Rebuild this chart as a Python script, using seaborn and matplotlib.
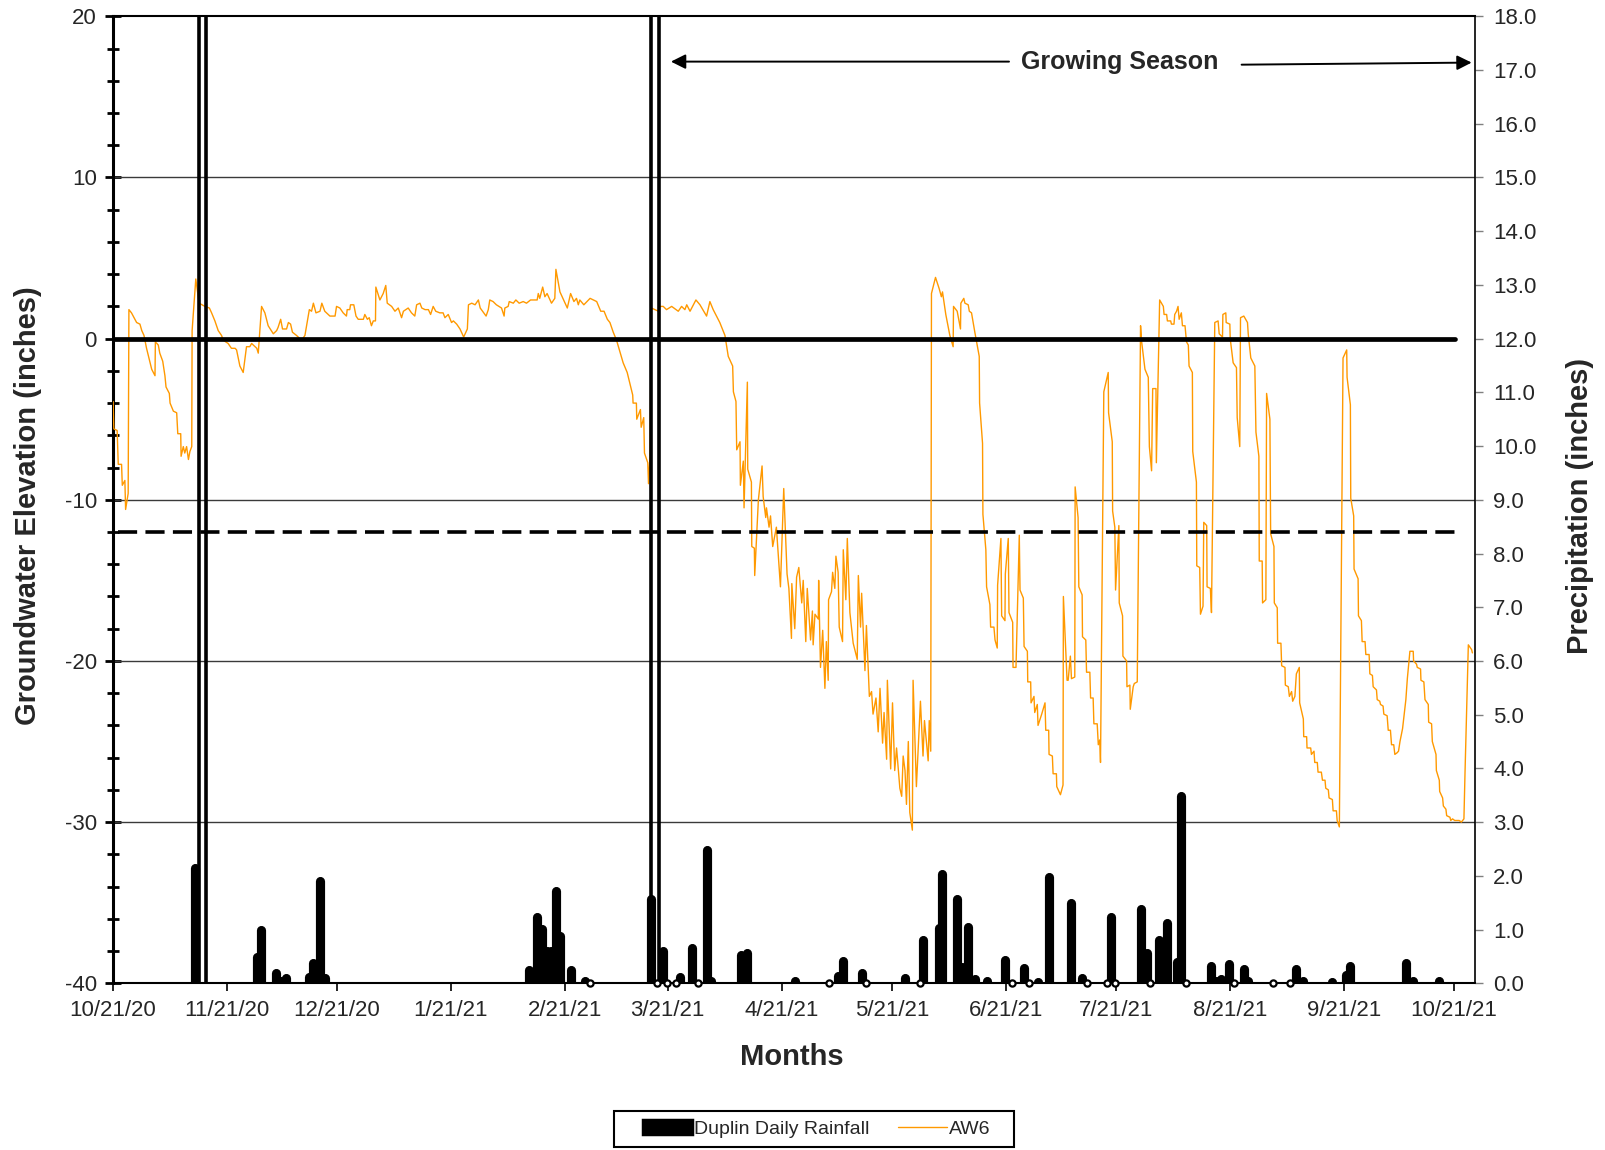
import numpy as np
import pandas as pd
import matplotlib
matplotlib.use("Agg")
import matplotlib.pyplot as plt
import matplotlib.dates as mdates
import seaborn as sns
from matplotlib.lines import Line2D
from matplotlib.patches import Patch, Rectangle
from matplotlib.ticker import MultipleLocator, FormatStrFormatter

# ---------------- data ----------------
start_date = "2020-10-21"

# AW6 groundwater elevation (inches): (days after 10/21/20, value)
aw6_oct_mar = [
    (0.1, -3.9), (0.3, -5.6), (1.2, -5.7), (1.5, -7.8), (2.4, -7.8), (2.6, -9.1), (3.3, -8.8), (3.5, -10.6),
    (4.2, -9.6), (4.4, 1.8), (5.1, 1.6), (6.5, 1.0), (7.4, 0.9), (7.9, 0.5), (8.5, 0.2), (9.2, -0.6),
    (10.6, -1.9), (11.5, -2.3), (11.6, -0.2), (12.4, -0.4), (12.8, -0.9), (13.6, -1.4), (14.2, -2.3),
    (14.5, -3.0), (15.4, -3.4), (15.6, -4.0), (16.5, -4.5), (17.4, -4.6), (17.7, -5.9), (18.5, -5.9),
    (18.6, -7.3), (19.2, -6.7), (19.6, -7.1), (20.1, -6.7), (20.6, -7.5), (21.0, -7.0), (21.5, -6.7),
    (21.6, 0.5), (22.6, 3.7), (23.5, 2.2), (25.1, 2.0), (26.3, 1.9), (26.9, 1.6), (27.8, 1.1), (28.7, 0.5),
    (29.6, 0.2), (30.1, -0.1), (31.4, -0.3), (32.3, -0.6), (33.3, -0.6), (33.7, -0.7), (34.6, -1.7),
    (35.5, -2.1), (36.4, -0.5), (37.3, -0.5), (37.8, -0.3), (39.2, -0.6), (39.6, -0.9), (40.5, 2.0),
    (41.4, 1.6), (42.3, 0.8), (43.7, 0.3), (44.6, 0.5), (45.0, 0.7), (45.7, 1.2), (46.2, 0.6), (47.3, 0.6),
    (47.8, 1.0), (48.4, 0.9), (48.9, 0.4), (50.0, 0.2), (51.4, -0.1), (52.3, 0.2), (53.5, 1.8), (54.1, 1.7),
    (54.6, 2.2), (55.3, 1.6), (56.4, 1.7), (56.9, 2.2), (57.7, 1.7), (59.1, 1.4), (60.5, 1.4), (60.9, 2.0),
    (61.8, 1.9), (62.7, 1.6), (63.6, 1.4), (63.8, 1.8), (64.5, 1.8), (64.7, 2.1), (65.6, 2.1), (66.2, 1.4),
    (66.8, 1.2), (68.2, 1.2), (68.6, 1.5), (69.3, 1.2), (69.8, 1.3), (70.4, 0.8), (70.9, 1.1), (71.5, 1.1),
    (71.6, 3.2), (72.7, 2.4), (73.6, 2.8), (74.3, 3.3), (74.7, 2.2), (75.9, 2.0), (76.8, 1.7), (77.7, 1.9),
    (78.6, 1.3), (79.1, 1.7), (80.4, 1.9), (81.3, 1.6), (82.2, 1.4), (82.7, 2.1), (83.6, 2.2), (84.1, 1.9),
    (85.0, 1.8), (85.9, 1.8), (86.5, 1.5), (87.2, 2.0), (87.9, 1.7), (89.0, 1.6), (89.9, 1.6), (90.4, 1.3),
    (91.3, 1.5), (92.2, 1.0), (92.7, 1.1), (93.6, 0.9), (94.5, 0.6), (95.5, 0.1), (96.5, 0.6), (96.8, 2.1),
    (97.7, 2.2), (98.6, 2.1), (99.5, 2.4), (100.0, 1.9), (101.6, 1.4), (102.2, 1.8), (102.6, 2.4),
    (103.5, 2.3), (104.4, 2.1), (105.8, 1.9), (106.5, 1.4), (106.7, 1.9), (107.6, 2.0), (107.9, 2.3),
    (109.0, 2.2), (109.7, 2.4), (110.6, 2.2), (111.7, 2.3), (112.6, 2.2), (113.7, 2.4), (115.5, 2.4),
    (115.8, 2.8), (116.2, 2.5), (117.0, 3.2), (117.6, 2.6), (118.2, 2.8), (119.4, 2.2), (120.3, 2.5),
    (120.6, 4.3), (121.7, 2.9), (123.1, 2.2), (123.7, 1.9), (124.6, 2.8), (125.5, 2.3), (126.2, 2.5),
    (126.7, 2.1), (127.1, 2.4), (128.2, 2.1), (129.9, 2.5), (131.7, 2.3), (132.8, 1.7), (133.7, 1.7),
    (134.6, 1.2), (135.3, 1.0), (136.2, 0.4), (137.1, -0.1), (138.0, -0.8), (138.9, -1.5), (140.0, -2.1),
]
aw6_mar_may = [
    (141.5, -3.5), (141.6, -4.0), (142.5, -4.0), (142.6, -5.0), (143.6, -4.4), (143.8, -5.5), (144.5, -4.9),
    (144.7, -7.1), (145.6, -7.7), (145.8, -9.0), (146.2, -7.3), (146.6, 1.9), (148.5, 1.7), (148.9, 2.0),
    (149.8, 2.0), (150.7, 1.8), (152.1, 2.0), (153.9, 1.7), (154.8, 2.0), (155.7, 1.8), (156.2, 2.1),
    (157.1, 1.7), (158.7, 2.4), (159.8, 2.1), (161.6, 1.4), (162.5, 2.3), (163.4, 1.8), (165.2, 1.0),
    (166.6, 0.2), (167.5, -1.1), (168.7, -1.7), (168.9, -3.3), (169.6, -3.9), (169.8, -6.9), (170.7, -6.4),
    (170.8, -9.1), (171.6, -7.6), (171.8, -10.5), (172.7, -2.7), (172.8, -8.1), (173.8, -8.9), (173.9, -12.9),
    (174.6, -13.0), (174.7, -14.7), (175.7, -10.0), (176.7, -7.9), (177.0, -9.8), (177.7, -11.1),
    (177.9, -10.5), (178.6, -11.7), (179.0, -11.0), (179.6, -12.9), (180.6, -11.7), (181.7, -15.4),
    (182.0, -13.3), (182.6, -9.3), (183.5, -14.6), (184.0, -15.5), (184.7, -18.6), (184.8, -15.2),
    (185.6, -18.0), (186.1, -14.8), (186.7, -14.2), (187.5, -16.4), (187.9, -15.0), (188.6, -18.8),
    (189.0, -15.5), (189.9, -18.7), (190.4, -16.9), (190.6, -19.0), (191.1, -17.1), (192.0, -17.4),
    (192.1, -15.0), (192.6, -20.4), (193.2, -18.1), (193.8, -21.7), (194.2, -18.8), (194.7, -21.2),
    (194.8, -16.2), (195.6, -15.7), (195.9, -14.5), (196.5, -15.5), (196.8, -13.5), (197.4, -14.5),
    (197.7, -17.9), (198.6, -18.8), (198.8, -13.1), (199.5, -16.2), (199.9, -12.4), (200.6, -17.0),
    (201.5, -18.9), (202.6, -19.9), (202.9, -14.7), (203.5, -17.9), (203.8, -15.8), (204.7, -20.6),
    (205.1, -17.8), (205.9, -22.2), (206.5, -21.9), (206.9, -23.3), (207.7, -22.3), (208.3, -24.4),
    (208.8, -21.7), (209.5, -25.1), (209.9, -23.2), (210.6, -26.1), (210.8, -21.2), (211.7, -26.7),
    (212.2, -22.6), (212.8, -26.8), (213.3, -25.4), (214.2, -27.9), (214.7, -28.4), (215.1, -25.9),
    (215.6, -26.8), (216.0, -28.9), (216.5, -25.0), (216.9, -29.4), (217.6, -30.5), (217.8, -21.2),
    (218.7, -27.8), (219.8, -22.5), (220.5, -25.9), (220.9, -23.7), (221.9, -26.2), (222.2, -23.7),
    (222.6, -25.6),
]
aw6_may_aug = [
    (222.8, 2.8), (223.9, 3.8), (224.9, 3.1), (225.5, 2.6), (225.8, 2.9), (226.7, 1.5), (227.8, 0.2),
    (228.7, -0.5), (228.8, 2.0), (229.8, 1.7), (230.7, 0.6), (230.8, 2.2), (231.6, 2.5), (231.9, 2.2),
    (232.8, 2.1), (233.1, 1.7), (233.7, 1.6), (234.6, 0.4), (235.8, -1.1), (235.9, -4.0), (236.7, -6.5),
    (236.8, -10.9), (237.6, -13.1), (237.8, -15.4), (238.7, -16.5), (238.9, -17.9), (239.8, -17.9),
    (240.1, -18.7), (240.7, -19.2), (240.8, -15.3), (241.7, -12.4), (241.9, -17.2), (242.8, -17.5),
    (242.9, -14.6), (243.7, -12.4), (243.9, -17.0), (244.9, -17.6), (245.0, -20.4), (245.8, -20.4),
    (246.7, -12.2), (246.9, -15.6), (247.8, -16.1), (248.0, -19.1), (248.9, -19.4), (249.0, -21.3),
    (249.8, -21.3), (249.9, -22.6), (250.7, -22.2), (250.9, -23.2), (251.6, -22.7), (251.8, -24.0),
    (252.8, -23.3), (253.7, -22.6), (253.9, -24.3), (254.7, -24.3), (254.8, -25.8), (255.7, -25.9),
    (255.9, -27.0), (256.8, -27.0), (256.9, -27.8), (257.9, -28.3), (258.6, -27.7), (258.7, -16.0),
    (259.7, -21.2), (260.0, -21.2), (260.6, -19.7), (260.9, -21.1), (261.8, -21.0), (261.9, -9.2),
    (262.7, -11.1), (262.9, -15.4), (263.8, -15.9), (263.9, -18.5), (264.8, -18.7), (265.0, -20.7),
    (265.9, -20.7), (266.1, -22.3), (266.8, -22.3), (267.0, -23.9), (267.9, -23.9), (268.2, -25.2),
    (268.6, -24.9), (268.8, -26.3), (269.7, -3.3), (270.9, -2.1), (271.0, -4.6), (272.0, -6.4),
    (272.1, -10.7), (272.7, -11.7), (272.9, -15.6), (273.8, -11.6), (273.9, -16.4), (274.8, -17.2),
    (274.9, -19.7), (275.9, -20.0), (276.0, -21.6), (276.8, -21.5), (276.9, -23.0), (277.7, -21.6),
    (278.0, -21.4), (278.8, -21.3), (279.7, 0.8), (280.0, -0.2), (280.9, -1.9), (281.8, -2.4),
    (282.1, -6.7), (282.7, -8.2), (283.0, -3.1), (283.9, -3.1), (284.0, -7.7), (284.9, 2.4), (285.9, 2.0),
    (286.1, 1.5), (286.8, 1.5), (287.0, 1.1), (287.9, 1.1), (288.1, 0.9), (288.8, 0.9), (289.0, 1.5),
    (289.5, 1.7), (289.9, 2.0), (290.2, 1.2), (290.8, 1.6), (291.1, 0.8), (291.8, 0.8), (292.2, -0.2),
    (292.7, -0.4), (292.9, -1.7), (293.8, -2.1), (293.9, -7.0), (294.9, -8.9), (295.0, -14.1),
    (295.8, -14.2), (296.0, -17.1), (296.7, -16.6), (296.9, -11.4), (297.7, -11.6), (297.8, -15.4),
    (298.7, -15.5), (299.0, -17.0), (299.9, 1.0), (300.8, 1.1), (301.1, 0.3), (302.0, 0.1), (302.1, 1.5),
    (302.9, 1.6), (303.0, 1.0), (304.0, 0.9), (304.1, 0.0),
]
aw6_aug_oct = [
    (304.9, -1.5), (305.8, -1.8), (306.0, -4.9), (306.7, -6.7), (306.9, 1.3), (307.8, 1.4), (308.8, 1.0),
    (309.0, 0.3), (309.7, -1.2), (310.8, -1.7), (311.1, -5.8), (311.9, -7.3), (312.0, -13.8), (312.8, -13.8),
    (312.9, -16.4), (313.8, -16.2), (314.0, -3.4), (314.9, -5.0), (315.1, -12.1), (316.0, -12.9),
    (316.1, -16.4), (316.9, -16.7), (317.0, -18.9), (317.9, -18.9), (318.1, -20.3), (319.0, -20.4),
    (319.1, -21.5), (319.9, -21.6), (320.2, -22.2), (320.8, -21.9), (321.1, -22.5), (321.7, -22.2),
    (322.1, -20.8), (322.9, -20.4), (323.0, -22.6), (324.0, -23.6), (324.1, -24.7), (324.9, -24.7),
    (325.0, -25.4), (326.0, -25.4), (326.2, -25.8), (326.9, -25.6), (327.1, -26.3), (327.8, -26.3),
    (328.0, -26.9), (328.9, -26.9), (329.2, -27.4), (329.9, -27.4), (330.1, -27.9), (330.8, -28.0),
    (331.0, -28.5), (331.9, -28.6), (332.1, -29.3), (333.0, -29.3), (333.2, -29.9), (333.8, -30.3),
    (334.8, -1.2), (335.8, -0.7), (335.9, -2.4), (336.8, -4.1), (336.9, -9.9), (337.7, -11.0),
    (337.8, -14.3), (338.9, -14.9), (339.0, -17.2), (339.8, -17.5), (340.0, -18.8), (340.8, -18.8),
    (341.0, -19.6), (341.9, -19.6), (342.1, -20.8), (342.8, -20.9), (343.0, -21.6), (343.9, -21.8),
    (344.1, -22.4), (344.8, -22.5), (345.0, -22.7), (345.7, -22.8), (345.9, -23.3), (346.8, -23.4),
    (347.1, -24.3), (347.7, -24.3), (348.0, -25.2), (348.6, -25.2), (348.9, -25.8), (349.5, -25.7),
    (349.9, -25.6), (350.3, -25.0), (351.0, -24.2), (351.9, -22.4), (352.3, -21.1), (353.0, -19.4),
    (353.9, -19.4), (354.0, -20.0), (354.8, -20.2), (355.0, -20.4), (355.9, -20.5), (356.0, -21.2),
    (356.8, -21.3), (357.1, -22.4), (358.0, -22.7), (358.1, -23.8), (358.9, -23.9), (359.1, -25.0),
    (360.1, -25.8), (360.2, -26.8), (361.0, -27.4), (361.1, -28.1), (361.9, -28.5), (362.1, -29.0),
    (362.8, -29.2), (363.0, -29.6), (363.9, -29.7), (364.1, -29.9), (364.6, -29.8), (365.2, -29.9),
    (365.9, -29.9), (366.4, -29.9), (367.0, -30.0), (367.7, -29.8), (368.0, -26.9), (368.9, -19.0),
    (369.8, -19.3), (370.0, -19.5),
]

# Duplin daily rainfall (inches): (days after 10/21/20, value)
rain_events = [
    (22.4, 2.15), (39.3, 0.48), (40.3, 0.99), (44.3, 0.19), (45.8, 0.05), (47.2, 0.10), (53.5, 0.11),
    (54.4, 0.37), (56.5, 1.91), (57.7, 0.10), (113.3, 0.24), (115.5, 1.23), (116.8, 1.01), (118.2, 0.60),
    (119.4, 0.60), (120.6, 1.71), (121.7, 0.88), (124.6, 0.25), (128.5, 0.05), (146.6, 1.57),
    (149.7, 0.60), (154.4, 0.11), (157.6, 0.66), (161.8, 2.48), (162.8, 0.04), (171.1, 0.53),
    (172.5, 0.56), (185.7, 0.04), (197.4, 0.14), (198.7, 0.42), (204.0, 0.19), (215.7, 0.09),
    (220.6, 0.81), (224.8, 1.02), (225.8, 2.04), (229.7, 1.56), (231.0, 0.31), (232.8, 1.05),
    (234.7, 0.07), (237.8, 0.04), (242.7, 0.43), (247.9, 0.29), (251.9, 0.03), (254.8, 1.98),
    (260.7, 1.49), (263.9, 0.09), (271.7, 1.24), (279.7, 1.39), (281.4, 0.57), (284.8, 0.81),
    (286.9, 1.12), (289.6, 0.40), (290.6, 3.49), (298.8, 0.33), (300.2, 0.05), (301.6, 0.08),
    (303.8, 0.35), (307.8, 0.27), (309.0, 0.05), (321.9, 0.27), (323.9, 0.05), (331.8, 0.03),
    (335.7, 0.15), (336.8, 0.32), (351.9, 0.37), (353.9, 0.05), (360.9, 0.05),
]
rain_zero_days = [129.9, 148.2, 150.8, 153.4, 159.2, 194.8, 205.0, 219.6, 244.6, 249.3, 265.1,
                  270.6, 272.7, 282.2, 292.2, 305.1, 315.8, 320.5]

month_labels = ["10/21/20", "11/21/20", "12/21/20", "1/21/21", "2/21/21", "3/21/21", "4/21/21",
                "5/21/21", "6/21/21", "7/21/21", "8/21/21", "9/21/21", "10/21/21"]

marker_days = [23.4, 25.4, 146.6, 148.6]   # double vertical lines
threshold_zero = 0
threshold_12 = -12
line_end_day = 365.2

# ---------------- helpers ----------------
t0 = pd.Timestamp(start_date)
def to_date(days):
    return t0 + pd.to_timedelta(np.asarray(days, dtype=float), unit="D")

def dn(days):
    return mdates.date2num(to_date([days])[0])

aw6_pts = aw6_oct_mar + aw6_mar_may + aw6_may_aug + aw6_aug_oct
aw6_df = pd.DataFrame({"date": to_date([p[0] for p in aw6_pts]),
                       "AW6": [p[1] for p in aw6_pts]})
rain_df = pd.DataFrame({"date": to_date([p[0] for p in rain_events]),
                        "rain": [p[1] for p in rain_events]})

# ---------------- style ----------------
sns.set_theme(style="white")
plt.rcParams["font.family"] = ["Liberation Sans", "DejaVu Sans"]
plt.rcParams["axes.unicode_minus"] = False

W, H = 1606, 1150
fig = plt.figure(figsize=(W / 100, H / 100), dpi=100)
ax = fig.add_axes([0.0702, 0.1450, 0.8482, 0.8408])
ax2 = ax.twinx()
ax2.set_position(ax.get_position())

ORANGE = "#FF9900"

# gridlines
for yv in [10, -10, -20, -30]:
    ax.axhline(yv, color="#3a3a3a", lw=1.0, zorder=1)

# AW6 line
sns.lineplot(data=aw6_df, x="date", y="AW6", ax=ax, color=ORANGE, lw=1.0,
             sort=False, estimator=None, legend=False, zorder=3)

# threshold lines
ax.plot([dn(0), dn(line_end_day)], [threshold_zero, threshold_zero], color="black", lw=3.4,
        solid_capstyle="round", zorder=4)
ax.plot([dn(1.5), dn(line_end_day)], [threshold_12, threshold_12],
        color="black", lw=2.6, dashes=(5.3, 2.3), zorder=4)

# double vertical lines
for d in marker_days:
    ax.axvline(to_date([d])[0], color="black", lw=2.6, zorder=5)

# rainfall as thick drop lines
ax2.vlines(rain_df["date"], 0, rain_df["rain"], colors="black", linewidth=6.6,
           capstyle="round", zorder=6)
ax2.scatter(to_date(rain_zero_days), np.zeros(len(rain_zero_days)), s=20, marker="o",
            facecolors="white", edgecolors="black", linewidths=1.6, zorder=7, clip_on=False)

# axes limits / ticks
ax.set_ylim(-40, 20)
ax2.set_ylim(0, 18)
ax.set_xlim(t0, t0 + pd.Timedelta(days=370.7))

tick_dates = pd.to_datetime(month_labels, format="%m/%d/%y")
ax.set_xticks(tick_dates)
ax.set_xticklabels(month_labels)
ax.yaxis.set_major_locator(MultipleLocator(10))
ax.yaxis.set_minor_locator(MultipleLocator(2))
ax.yaxis.set_major_formatter(FormatStrFormatter("%d"))
ax2.yaxis.set_major_locator(MultipleLocator(1))
ax2.yaxis.set_major_formatter(FormatStrFormatter("%.1f"))

ax.tick_params(axis="x", which="major", direction="out", length=6, width=1.2, color="black",
               labelsize=16, pad=6, bottom=True)
ax.tick_params(axis="y", which="major", direction="inout", length=11, width=2, color="black",
               labelsize=16, pad=6, left=True)
ax.tick_params(axis="y", which="minor", direction="inout", length=8, width=2, color="black", left=True)
ax2.tick_params(axis="y", which="major", direction="out", length=6, width=1, color="#808080",
                labelsize=16, pad=7, right=True)

for sp in ["top", "bottom"]:
    ax.spines[sp].set_color("black")
    ax.spines[sp].set_linewidth(1.5)
ax.spines["left"].set_color("black")
ax.spines["left"].set_linewidth(2.2)
ax.spines["right"].set_visible(False)
for sp in ["top", "bottom", "left"]:
    ax2.spines[sp].set_visible(False)
ax2.spines["right"].set_color("black")
ax2.spines["right"].set_linewidth(1.2)

ax.set_xlabel("")
ax.set_ylabel("")
ax2.set_ylabel("")

# growing season annotation
ys = 17.19
ax.annotate("", xy=(dn(151.9), ys), xytext=(dn(243.9), ys),
            arrowprops=dict(arrowstyle="-|>", color="black", lw=1.4, mutation_scale=22,
                            shrinkA=0, shrinkB=0), zorder=8)
ax.annotate("", xy=(dn(369.8), 17.13), xytext=(dn(307.2), 17.0),
            arrowprops=dict(arrowstyle="-|>", color="black", lw=1.4, mutation_scale=22,
                            shrinkA=0, shrinkB=0), zorder=8, annotation_clip=False)
ax.text(dn(273.9), ys, "Growing Season", ha="center", va="center", fontsize=18,
        fontweight="bold", zorder=8)

# axis titles
fig.text(0.0172, 0.560, "Groundwater Elevation (inches)", rotation=90, ha="center",
         va="center", fontsize=21, fontweight="bold")
fig.text(0.9838, 0.560, "Precipitation (inches)", rotation=90, ha="center",
         va="center", fontsize=21, fontweight="bold")
fig.text(0.493, 0.081, "Months", ha="center", va="center", fontsize=21, fontweight="bold")

# legend (content without frame, frame drawn as a box)
handles = [Patch(facecolor="black", edgecolor="black", linewidth=2.5, joinstyle="round"),
           Line2D([0], [0], color=ORANGE, lw=1.0)]
leg = fig.legend(handles, ["Duplin Daily Rainfall", "AW6"], loc="center",
                 bbox_to_anchor=(0.5086, 0.0183), ncol=2, fontsize=14, frameon=False,
                 handlelength=2.5, handleheight=0.7, handletextpad=0.1,
                 columnspacing=1.5, borderpad=0.3)
box_x0, box_x1, box_y0, box_y1 = 614.5, 1014.0, 1111.3, 1147.0
fig.add_artist(Rectangle((box_x0 / W, 1 - box_y1 / H), (box_x1 - box_x0) / W, (box_y1 - box_y0) / H,
                         transform=fig.transFigure, fill=False, edgecolor="black", linewidth=1.5))

fig.savefig("out.png", dpi=100)
